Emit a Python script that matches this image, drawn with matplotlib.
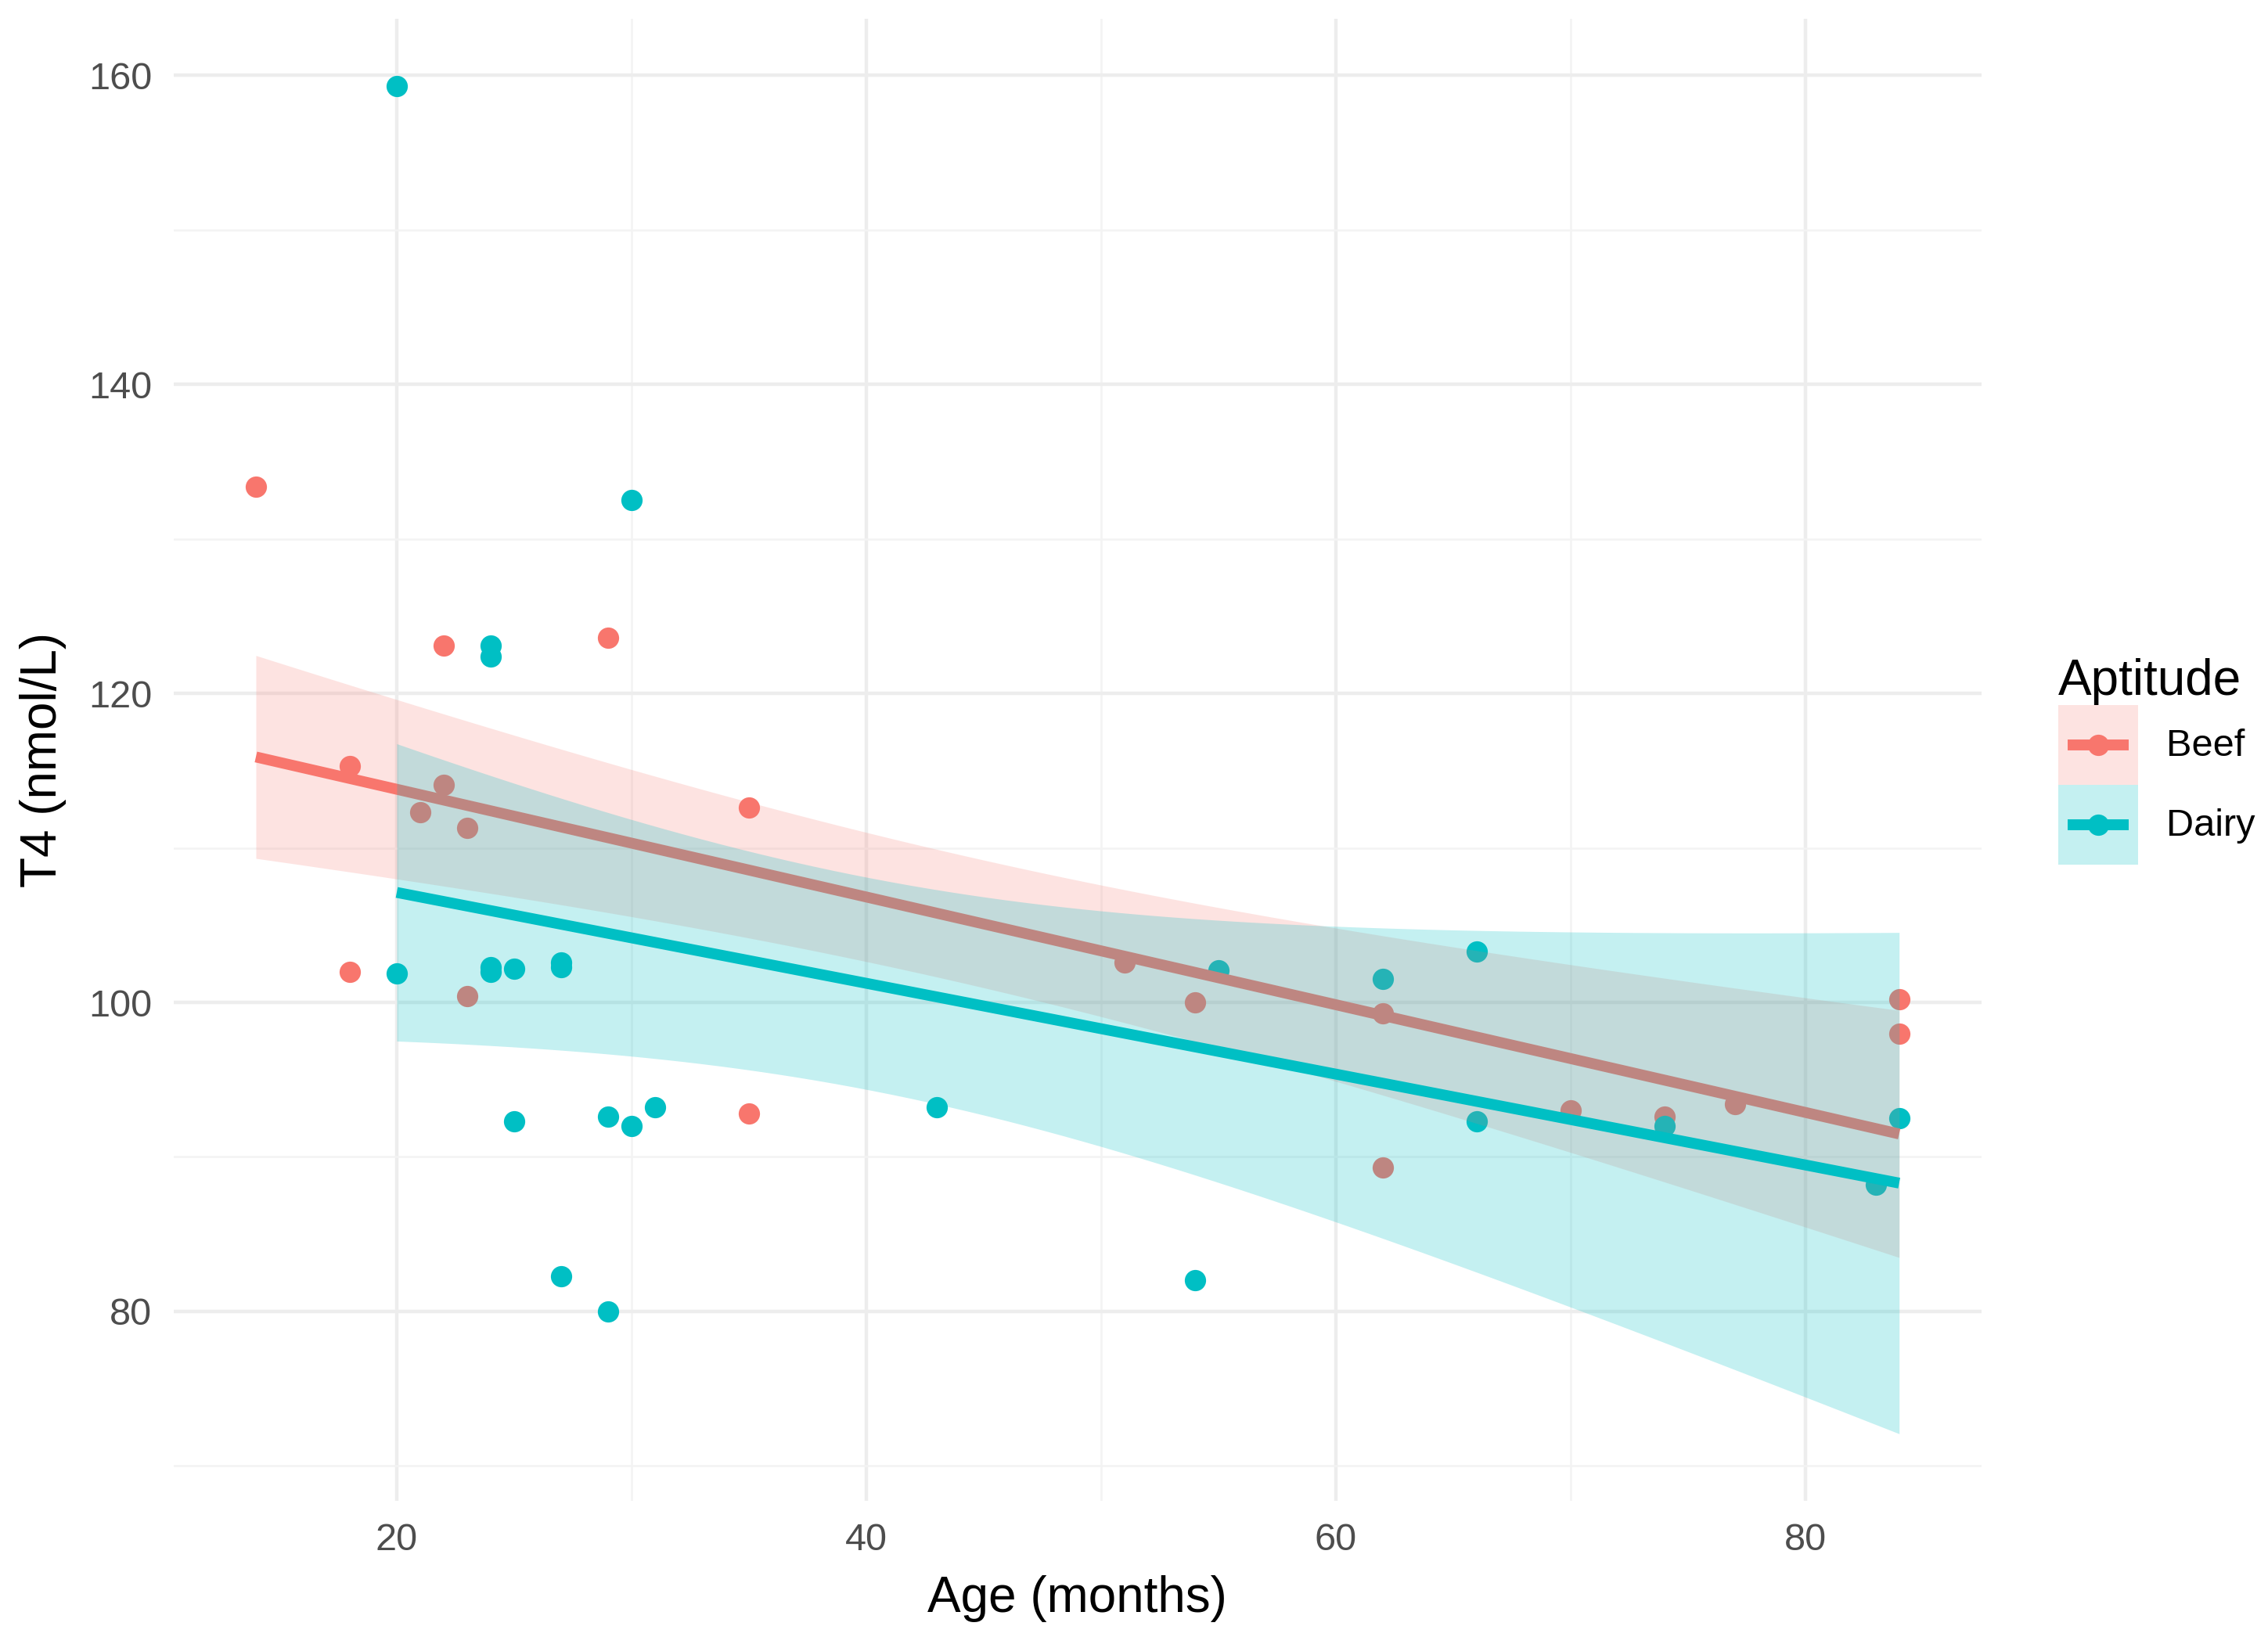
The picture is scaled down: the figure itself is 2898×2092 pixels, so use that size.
import numpy as np
import matplotlib

matplotlib.use("Agg")
from matplotlib import pyplot as plt
from matplotlib.legend_handler import HandlerBase
from matplotlib.lines import Line2D
from matplotlib.patches import Patch, Rectangle

plt.rcParams["font.family"] = ["Liberation Sans", "DejaVu Sans"]

beef_age = [14, 18, 18, 21, 22, 22, 23, 23, 29, 35, 35, 51, 54, 62, 62, 70, 74, 77, 84, 84]
beef_t4 = [133.4, 115.3, 102.0, 112.3, 123.1, 114.1, 111.3, 100.4, 123.6, 112.6,
           92.8, 102.6, 100.0, 99.3, 89.3, 93.0, 92.6, 93.4, 100.2, 98.0]

dairy_age = [20, 20, 24, 24, 24, 24, 25, 25, 27, 27, 27, 29, 29, 30, 30, 31, 43,
             54, 55, 62, 66, 66, 74, 83, 84]
dairy_t4 = [159.3, 101.9, 123.1, 122.4, 102.3, 102.0, 102.2, 92.3, 102.6, 102.3,
            82.3, 92.6, 80.0, 132.5, 92.0, 93.2, 93.2, 82.0, 102.1, 101.5, 103.3,
            92.3, 92.0, 88.2, 92.5]

groups = ["Beef", "Dairy"]
colors = {"Beef": "#F8766D", "Dairy": "#00BFC4"}
band_alpha = {"Beef": 0.2, "Dairy": 0.23}
data = {"Beef": (beef_age, beef_t4), "Dairy": (dairy_age, dairy_t4)}

LW = 5.0
MS = 9.8


def t_quantile(df, z=1.959964):
    # Cornish-Fisher expansion of the t quantile (no scipy needed)
    g1 = (z**3 + z) / 4
    g2 = (5 * z**5 + 16 * z**3 + 3 * z) / 96
    g3 = (3 * z**7 + 19 * z**5 + 17 * z**3 - 15 * z) / 384
    g4 = (79 * z**9 + 776 * z**7 + 1482 * z**5 - 1920 * z**3 - 945 * z) / 92160
    return z + g1 / df + g2 / df**2 + g3 / df**3 + g4 / df**4


def lm_band(x, y, n_grid=80):
    x = np.asarray(x, float)
    y = np.asarray(y, float)
    n = x.size
    slope, intercept = np.polyfit(x, y, 1)
    resid = y - (slope * x + intercept)
    s = np.sqrt((resid**2).sum() / (n - 2))
    xs = np.linspace(x.min(), x.max(), n_grid)
    fit = slope * xs + intercept
    se = s * np.sqrt(1 / n + (xs - x.mean()) ** 2 / ((x - x.mean()) ** 2).sum())
    t = t_quantile(n - 2)
    return xs, fit, fit - t * se, fit + t * se


class KeyHandler(HandlerBase):
    # ggplot-like key: filled band, line and point on top
    def create_artists(self, legend, orig_handle, xdescent, ydescent,
                       width, height, fontsize, trans):
        fc = orig_handle.get_facecolor()
        rgb = fc[:3]
        x0, y0 = -xdescent, -ydescent
        rect = Rectangle((x0, y0), width, height, facecolor=rgb, alpha=fc[3],
                         edgecolor="none", transform=trans)
        ym = y0 + height / 2
        line = Line2D([x0 + 0.12 * width, x0 + 0.88 * width], [ym, ym], color=rgb,
                      linewidth=LW, solid_capstyle="butt", transform=trans)
        dot = Line2D([x0 + width / 2], [ym], linestyle="none", marker="o",
                     markersize=MS, markeredgewidth=0, color=rgb, transform=trans)
        return [rect, line, dot]


fig = plt.figure(figsize=(14.49, 10.46), dpi=200)
ax = fig.add_axes([0.0766, 0.083, 0.797, 0.9055])

for g in groups:
    ax.scatter(*data[g], s=MS**2, color=colors[g], linewidths=0, zorder=2)

z = 3
for g in groups:
    xs, fit, lo, hi = lm_band(*data[g])
    ax.fill_between(xs, lo, hi, color=colors[g], alpha=band_alpha[g], linewidth=0, zorder=z)
    ax.plot(xs, fit, color=colors[g], linewidth=LW, solid_capstyle="butt", zorder=z + 1)
    z += 2

ax.margins(x=0.05, y=0.05)
ax.set_xticks([20, 40, 60, 80])
ax.set_xticks([30, 50, 70], minor=True)
ax.set_yticks([80, 100, 120, 140, 160])
ax.set_yticks([70, 90, 110, 130, 150], minor=True)
ax.grid(which="major", color="#EDEDED", linewidth=1.6, zorder=0)
ax.grid(which="minor", color="#F3F3F3", linewidth=0.9, zorder=0)
ax.set_axisbelow(True)
for sp in ax.spines.values():
    sp.set_visible(False)
ax.tick_params(which="both", length=0, labelsize=17.5, labelcolor="#4D4D4D", pad=10)
ax.set_xlabel("Age (months)", fontsize=23, labelpad=8)
ax.set_ylabel("T4 (nmol/L)", fontsize=23, labelpad=10)

handles = [Patch(facecolor=colors[g], alpha=band_alpha[g]) for g in groups]
leg = fig.legend(
    handles, groups,
    handler_map={Patch: KeyHandler()},
    loc="center left", bbox_to_anchor=(0.9075, 0.535),
    frameon=False, fontsize=17.5, title="Aptitude", title_fontsize=23,
    handlelength=2.1, handleheight=2.85, labelspacing=0, handletextpad=0.75,
    borderpad=0, borderaxespad=0,
)
leg._legend_box.align = "left"

fig.savefig("out.png", dpi=200)
